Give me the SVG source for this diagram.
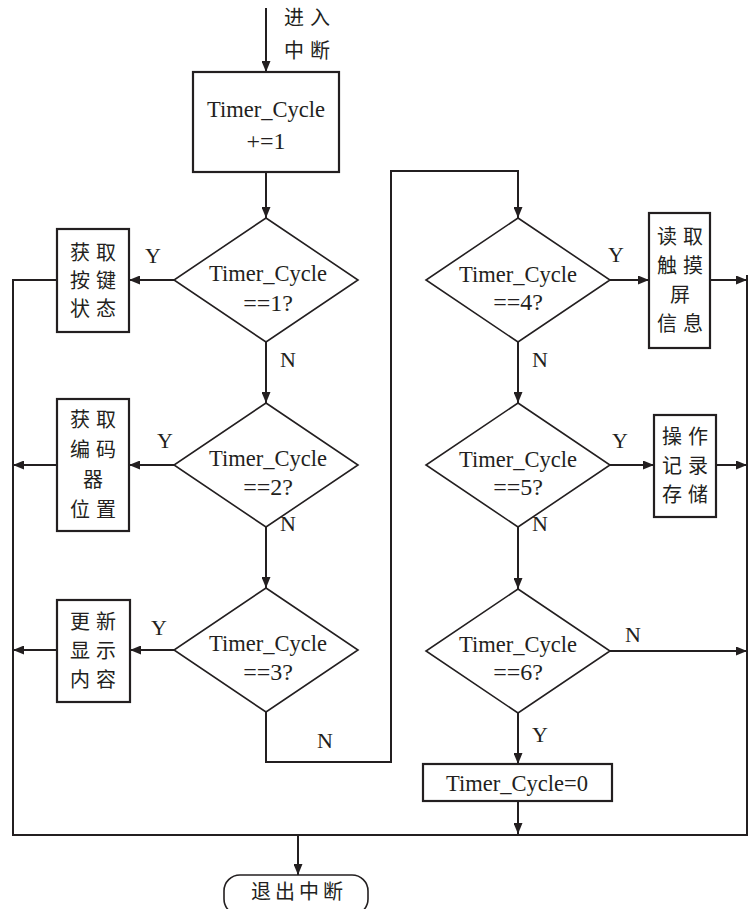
<svg xmlns="http://www.w3.org/2000/svg" width="748" height="909" viewBox="0 0 748 909">
<style>
.bg{fill:#fff}
.box{fill:#fff;stroke:#231f20;stroke-width:2.2}
.dia{fill:#fff;stroke:#231f20;stroke-width:1.6}
.ln{fill:none;stroke:#231f20;stroke-width:2}
.en{font-family:'Liberation Serif','Times New Roman','DejaVu Serif',serif;font-size:24px;fill:#231f20;text-anchor:middle}
.lb{font-family:'Liberation Serif','Times New Roman','DejaVu Serif',serif;font-size:22px;fill:#231f20;text-anchor:middle}
.cn{font-family:'Noto Sans CJK SC','Noto Sans',sans-serif;font-size:20px;fill:#231f20;text-anchor:middle;letter-spacing:6px}
</style>
<defs>
<marker id="ah" markerUnits="userSpaceOnUse" markerWidth="11" markerHeight="9" refX="11" refY="4.5" orient="auto">
<path d="M0,0 L11,4.5 L0,9 z" fill="#231f20"/>
</marker>
</defs>
<rect class="bg" x="0" y="0" width="748" height="909"/>

<g id="connectors">
<line class="ln" x1="266" y1="8" x2="266" y2="72" marker-end="url(#ah)"/>
<line class="ln" x1="266" y1="172" x2="266" y2="218" marker-end="url(#ah)"/>
<line class="ln" x1="266" y1="342" x2="266" y2="403" marker-end="url(#ah)"/>
<line class="ln" x1="266" y1="527" x2="266" y2="588" marker-end="url(#ah)"/>
<polyline class="ln" points="266,712 266,762 391,762 391,171 518,171 518,218" marker-end="url(#ah)"/>
<line class="ln" x1="518" y1="342" x2="518" y2="403" marker-end="url(#ah)"/>
<line class="ln" x1="518" y1="527" x2="518" y2="589" marker-end="url(#ah)"/>
<line class="ln" x1="518" y1="713" x2="518" y2="764" marker-end="url(#ah)"/>
<line class="ln" x1="518" y1="801" x2="518" y2="834" marker-end="url(#ah)"/>
<line class="ln" x1="174" y1="280" x2="129" y2="280" marker-end="url(#ah)"/>
<line class="ln" x1="174" y1="465" x2="129" y2="465" marker-end="url(#ah)"/>
<line class="ln" x1="174" y1="650" x2="130" y2="650" marker-end="url(#ah)"/>
<line class="ln" x1="57" y1="465" x2="13" y2="465" marker-end="url(#ah)"/>
<line class="ln" x1="57" y1="650" x2="13" y2="650" marker-end="url(#ah)"/>
<polyline class="ln" points="57,280 13,280 13,835 747,835 747,275"/>
<line class="ln" x1="610" y1="280" x2="649" y2="280" marker-end="url(#ah)"/>
<line class="ln" x1="610" y1="465" x2="654" y2="465" marker-end="url(#ah)"/>
<line class="ln" x1="710" y1="280" x2="747" y2="280" marker-end="url(#ah)"/>
<line class="ln" x1="716" y1="465" x2="747" y2="465" marker-end="url(#ah)"/>
<line class="ln" x1="610" y1="651" x2="747" y2="651" marker-end="url(#ah)"/>
<line class="ln" x1="298" y1="835" x2="298" y2="875" marker-end="url(#ah)"/>
</g>

<g id="labels">
<text class="cn" x="310" y="25">进入</text>
<text class="cn" x="310" y="58">中断</text>
<text class="lb" x="153" y="263">Y</text>
<text class="lb" x="288" y="367">N</text>
<text class="lb" x="165" y="448">Y</text>
<text class="lb" x="288" y="531">N</text>
<text class="lb" x="159" y="635">Y</text>
<text class="lb" x="325" y="748">N</text>
<text class="lb" x="616" y="262">Y</text>
<text class="lb" x="540" y="367">N</text>
<text class="lb" x="620" y="448">Y</text>
<text class="lb" x="540" y="531">N</text>
<text class="lb" x="633" y="642">N</text>
<text class="lb" x="540" y="742">Y</text>
</g>

<g id="n-start">
<rect class="box" x="193" y="72" width="146" height="100"/>
<text class="en" x="266" y="117" textLength="118" lengthAdjust="spacingAndGlyphs">Timer_Cycle</text>
<text class="en" x="266" y="149">+=1</text>
</g>

<g id="d1">
<polygon class="dia" points="266,218 358,280 266,342 174,280"/>
<text class="en" x="268" y="281" textLength="118" lengthAdjust="spacingAndGlyphs">Timer_Cycle</text>
<text class="en" x="268" y="311">==1?</text>
</g>
<g id="b1">
<rect class="box" x="57" y="229" width="72" height="103"/>
<text class="cn" x="96" y="260">获取</text>
<text class="cn" x="96" y="288">按键</text>
<text class="cn" x="96" y="316">状态</text>
</g>

<g id="d2">
<polygon class="dia" points="266,403 358,465 266,527 174,465"/>
<text class="en" x="268" y="466" textLength="118" lengthAdjust="spacingAndGlyphs">Timer_Cycle</text>
<text class="en" x="268" y="495">==2?</text>
</g>
<g id="b2">
<rect class="box" x="57" y="399" width="72" height="132"/>
<text class="cn" x="96" y="427">获取</text>
<text class="cn" x="96" y="457">编码</text>
<text class="cn" x="96" y="487">器</text>
<text class="cn" x="96" y="517">位置</text>
</g>

<g id="d3">
<polygon class="dia" points="266,588 358,650 266,712 174,650"/>
<text class="en" x="268" y="651" textLength="118" lengthAdjust="spacingAndGlyphs">Timer_Cycle</text>
<text class="en" x="268" y="680">==3?</text>
</g>
<g id="b3">
<rect class="box" x="57" y="600" width="73" height="102"/>
<text class="cn" x="96" y="629">更新</text>
<text class="cn" x="96" y="658">显示</text>
<text class="cn" x="96" y="687">内容</text>
</g>

<g id="d4">
<polygon class="dia" points="518,218 610,280 518,342 426,280"/>
<text class="en" x="518" y="282" textLength="118" lengthAdjust="spacingAndGlyphs">Timer_Cycle</text>
<text class="en" x="518" y="310">==4?</text>
</g>
<g id="b4">
<rect class="box" x="649" y="213" width="61" height="135"/>
<text class="cn" x="683" y="244">读取</text>
<text class="cn" x="683" y="273">触摸</text>
<text class="cn" x="683" y="302">屏</text>
<text class="cn" x="683" y="331">信息</text>
</g>

<g id="d5">
<polygon class="dia" points="518,403 610,465 518,527 426,465"/>
<text class="en" x="518" y="467" textLength="118" lengthAdjust="spacingAndGlyphs">Timer_Cycle</text>
<text class="en" x="518" y="495">==5?</text>
</g>
<g id="b5">
<rect class="box" x="654" y="415" width="62" height="102"/>
<text class="cn" x="688" y="444">操作</text>
<text class="cn" x="688" y="473">记录</text>
<text class="cn" x="688" y="502">存储</text>
</g>

<g id="d6">
<polygon class="dia" points="518,589 610,651 518,713 426,651"/>
<text class="en" x="518" y="652" textLength="118" lengthAdjust="spacingAndGlyphs">Timer_Cycle</text>
<text class="en" x="518" y="680">==6?</text>
</g>
<g id="b6">
<rect class="box" x="423" y="764" width="189" height="37"/>
<text class="en" x="517" y="791" textLength="142" lengthAdjust="spacingAndGlyphs">Timer_Cycle=0</text>
</g>

<g id="n-end">
<rect class="box" x="224" y="875" width="144" height="40" rx="16" ry="16" style="stroke-width:1.6"/>
<text class="cn" x="299" y="899" style="letter-spacing:4px">退出中断</text>
</g>
</svg>
